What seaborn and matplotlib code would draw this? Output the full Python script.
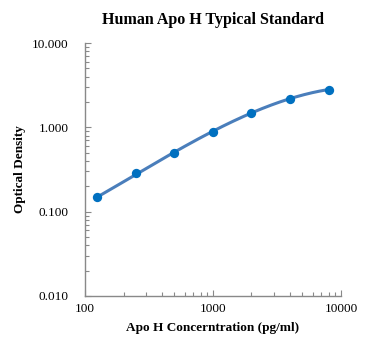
import numpy as np
import pandas as pd
import matplotlib
matplotlib.use("Agg")
import matplotlib.pyplot as plt
import matplotlib.ticker as mticker
import seaborn as sns

# Standard curve readings
concentration = [125, 250, 500, 1000, 2000, 4000, 8000]
optical_density = [0.148, 0.284, 0.50, 0.89, 1.50, 2.20, 2.80]

x_ticks = [100, 1000, 10000]
y_ticks = [0.01, 0.1, 1, 10]

sns.set_style("white")
plt.rcParams['font.family'] = ['Liberation Serif', 'DejaVu Serif']
plt.rcParams['text.color'] = 'black'
plt.rcParams['axes.labelcolor'] = 'black'

df = pd.DataFrame({'conc': concentration, 'od': optical_density})

# smooth fit in log-log space (cubic) for the standard curve
coef = np.polyfit(np.log10(df['conc']), np.log10(df['od']), 3)
xs = np.logspace(np.log10(df['conc'].min()), np.log10(df['conc'].max()), 200)
fit = pd.DataFrame({'conc': xs, 'od': 10 ** np.polyval(coef, np.log10(xs))})

fig = plt.figure(figsize=(3.72, 3.53), dpi=100)
ax = fig.add_axes([0.2285, 0.1615, 0.688, 0.7165])

sns.lineplot(data=fit, x='conc', y='od', ax=ax, color='#4A7EBB', linewidth=2.2)
sns.scatterplot(data=df, x='conc', y='od', ax=ax, color='#0070C0', s=45,
                edgecolor='#0070C0', linewidth=0, zorder=3)

ax.set_xscale('log')
ax.set_yscale('log')
ax.set_xlim(100, 10000)
ax.set_ylim(0.01, 10)
ax.set_xticks(x_ticks)
ax.set_yticks(y_ticks)
ax.xaxis.set_major_formatter(mticker.FuncFormatter(lambda v, p: f'{v:.0f}'))
ax.yaxis.set_major_formatter(mticker.FuncFormatter(lambda v, p: f'{v:.3f}'))
ax.xaxis.set_minor_locator(mticker.LogLocator(base=10, subs=np.arange(2, 10)))
ax.yaxis.set_minor_locator(mticker.LogLocator(base=10, subs=np.arange(2, 10)))
ax.xaxis.set_minor_formatter(mticker.NullFormatter())
ax.yaxis.set_minor_formatter(mticker.NullFormatter())

ax.tick_params(axis='both', which='both', direction='in', color='#898989',
               width=0.8, labelsize=9.5, labelcolor='#000000',
               bottom=True, left=True, top=False, right=False)
ax.tick_params(axis='both', which='major', length=4)
ax.tick_params(axis='x', which='major', pad=5)
ax.tick_params(axis='y', which='major', pad=12)
ax.tick_params(axis='both', which='minor', length=3)

for side in ['top', 'right']:
    ax.spines[side].set_visible(False)
for side in ['left', 'bottom']:
    ax.spines[side].set_color('#898989')
    ax.spines[side].set_linewidth(1.0)

ax.set_title('Human Apo H Typical Standard', fontweight='bold', fontsize=11.5,
             pad=14, color='black')
ax.set_xlabel('Apo H Concerntration (pg/ml)', fontweight='bold', fontsize=9.5, labelpad=5)
ax.set_ylabel('Optical Density', fontweight='bold', fontsize=9.5, labelpad=4)

fig.savefig('out.png', dpi=100)
